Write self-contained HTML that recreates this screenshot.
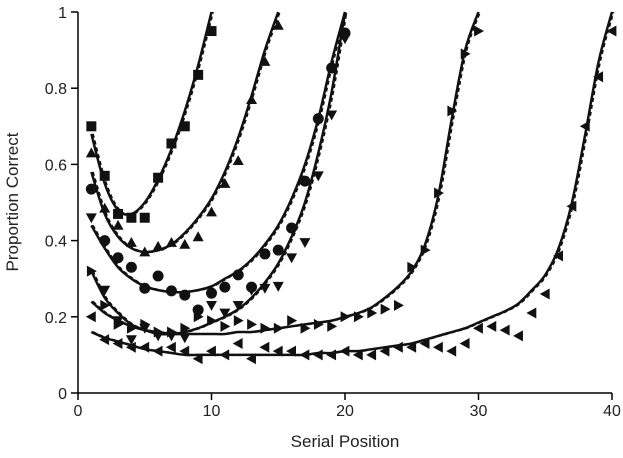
<!DOCTYPE html>
<html><head><meta charset="utf-8"><style>
body{margin:0;background:#fff}
svg{display:block;font-family:"Liberation Sans",Arial,sans-serif}
</style></head><body>
<svg id="chart" width="623" height="458" viewBox="0 0 623 458"></svg>
<script>
const xTicks=[0,10,20,30,40];
const yTicks=[0,0.2,0.4,0.6,0.8,1];
const yTickLabels=["0","0.2","0.4","0.6","0.8","1"];
const squares=[0.70,0.57,0.47,0.46,0.46,0.565,0.655,0.70,0.835,0.95];
const upTri=[0.63,0.485,0.44,0.395,0.37,0.385,0.395,0.39,0.41,0.475,0.55,0.61,0.77,0.87,0.965];
const circles=[0.535,0.40,0.355,0.33,0.275,0.307,0.268,0.257,0.218,0.262,0.278,0.31,0.278,0.365,0.375,0.433,0.556,0.72,0.853,0.945];
const downTri=[0.46,0.27,0.19,0.14,0.17,0.15,0.15,0.145,0.21,0.23,0.21,0.23,0.27,0.275,0.28,0.355,0.395,0.57,0.73,0.93];
const rightTri=[0.32,0.23,0.18,0.17,0.18,0.16,0.16,0.17,0.2,0.19,0.175,0.19,0.18,0.17,0.17,0.19,0.17,0.18,0.175,0.2,0.2,0.21,0.22,0.23,0.33,0.375,0.525,0.74,0.89,0.95];
const leftTri=[0.2,0.14,0.13,0.12,0.12,0.11,0.12,0.11,0.09,0.11,0.1,0.13,0.09,0.12,0.11,0.11,0.1,0.1,0.1,0.11,0.1,0.1,0.11,0.12,0.12,0.13,0.12,0.11,0.13,0.17,0.175,0.165,0.15,0.21,0.26,0.36,0.49,0.70,0.83,0.95];
const fitS=[0.68,0.55,0.48,0.47,0.50,0.56,0.64,0.74,0.86,1.0];
const fitT=[0.58,0.47,0.41,0.38,0.37,0.375,0.39,0.42,0.46,0.51,0.58,0.67,0.78,0.90,1.0];
const fitC=[0.44,0.38,0.33,0.30,0.28,0.27,0.265,0.265,0.27,0.28,0.30,0.32,0.35,0.39,0.44,0.51,0.60,0.72,0.87,1.0];
const fitD=[0.32,0.25,0.21,0.18,0.165,0.155,0.155,0.16,0.17,0.185,0.20,0.22,0.25,0.29,0.34,0.41,0.50,0.63,0.79,1.0];
const fitR=[0.24,0.21,0.19,0.175,0.165,0.16,0.155,0.155,0.155,0.155,0.155,0.16,0.16,0.165,0.17,0.175,0.18,0.185,0.19,0.2,0.21,0.225,0.25,0.28,0.32,0.39,0.52,0.72,0.9,1.0];
const fitL=[0.16,0.145,0.135,0.125,0.115,0.11,0.105,0.1,0.1,0.1,0.1,0.1,0.1,0.1,0.1,0.1,0.1,0.105,0.105,0.11,0.11,0.115,0.12,0.125,0.13,0.14,0.15,0.16,0.17,0.185,0.2,0.215,0.235,0.27,0.31,0.38,0.5,0.68,0.87,1.0];

const X0=78,X1=612,Y0=393,Y1=12;
const sx=v=>X0+v*(X1-X0)/40;
const sy=v=>Y0-v*(Y0-Y1);
const svg=document.getElementById('chart');
const NS='http://www.w3.org/2000/svg';
function mk(tag,attrs,parent){const e=document.createElementNS(NS,tag);for(const k in attrs)e.setAttribute(k,attrs[k]);(parent||svg).appendChild(e);return e;}

let ax=mk('path',{d:`M${X0},${Y1}V${Y0}H${X1}`,stroke:'#000','stroke-width':1.5,fill:'none'});


xTicks.forEach(t=>{
  const l=mk('line',{x1:sx(t),x2:sx(t),y1:Y0,y2:Y0+7,stroke:'#000','stroke-width':1.5});
  
  
  const tx=mk('text',{x:sx(t),y:416,'text-anchor':'middle','font-size':16,fill:'#222'});
  tx.textContent=t;
  
  
});
yTicks.forEach((t,i)=>{
  const l=mk('line',{x1:X0-7,x2:X0,y1:sy(t),y2:sy(t),stroke:'#000','stroke-width':1.5});
  
  
  const tx=mk('text',{x:67,y:sy(t)+6,'text-anchor':'end','font-size':16,fill:'#222'});
  tx.textContent=yTickLabels[i];
  
  
});
let xt=mk('text',{x:345,y:447,'text-anchor':'middle','font-size':17,fill:'#222'});
xt.textContent='Serial Position';


let yt=mk('text',{x:0,y:0,'text-anchor':'middle','font-size':17,fill:'#222',transform:'translate(18,202) rotate(-90)'});
yt.textContent='Proportion Correct';



function curvePath(arr){
  const p=arr.map((v,i)=>[sx(i+1),sy(v)]);
  let d=`M${p[0][0]},${p[0][1]}`;
  for(let i=0;i<p.length-1;i++){
    const a=p[Math.max(0,i-1)],b=p[i],c=p[i+1],e=p[Math.min(p.length-1,i+2)];
    d+=`C${b[0]+(c[0]-a[0])/6},${b[1]+(c[1]-a[1])/6} ${c[0]-(e[0]-b[0])/6},${c[1]-(e[1]-b[1])/6} ${c[0]},${c[1]}`;
  }
  return d;
}
function marker(shape,x,y){
  const r=5.5;
  if(shape==='sq') return mk('rect',{x:x-5,y:y-5,width:10,height:10,fill:'#111'});
  if(shape==='ci') return mk('circle',{cx:x,cy:y,r:5.5,fill:'#111'});
  let pts;
  if(shape==='up') pts=[[x,y-r],[x+r,y+r*0.8],[x-r,y+r*0.8]];
  if(shape==='dn') pts=[[x,y+r],[x+r,y-r*0.8],[x-r,y-r*0.8]];
  if(shape==='rt') pts=[[x+r,y],[x-r*0.8,y-r],[x-r*0.8,y+r]];
  if(shape==='lt') pts=[[x-r,y],[x+r*0.8,y-r],[x+r*0.8,y+r]];
  return mk('polygon',{points:pts.map(q=>q.join(',')).join(' '),fill:'#111'});
}
const series=[
  ['list-10',squares,fitS,'sq'],['list-15',upTri,fitT,'up'],['list-20a',circles,fitC,'ci'],
  ['list-20b',downTri,fitD,'dn'],['list-30',rightTri,fitR,'rt'],['list-40',leftTri,fitL,'lt']];
series.forEach(([name,data,fit,shape])=>{
  const dsh=mk('path',{d:curvePath(fit),stroke:'#111','stroke-width':2,fill:'none','stroke-dasharray':'4,3',transform:'translate(1.5,0)'});
  
  
  const ln=mk('path',{d:curvePath(fit),stroke:'#111','stroke-width':2.5,fill:'none'});
  
  
  data.forEach((v,i)=>{
    const m=marker(shape,sx(i+1),sy(v));
    
    
  });
});
</script>
</body></html>
